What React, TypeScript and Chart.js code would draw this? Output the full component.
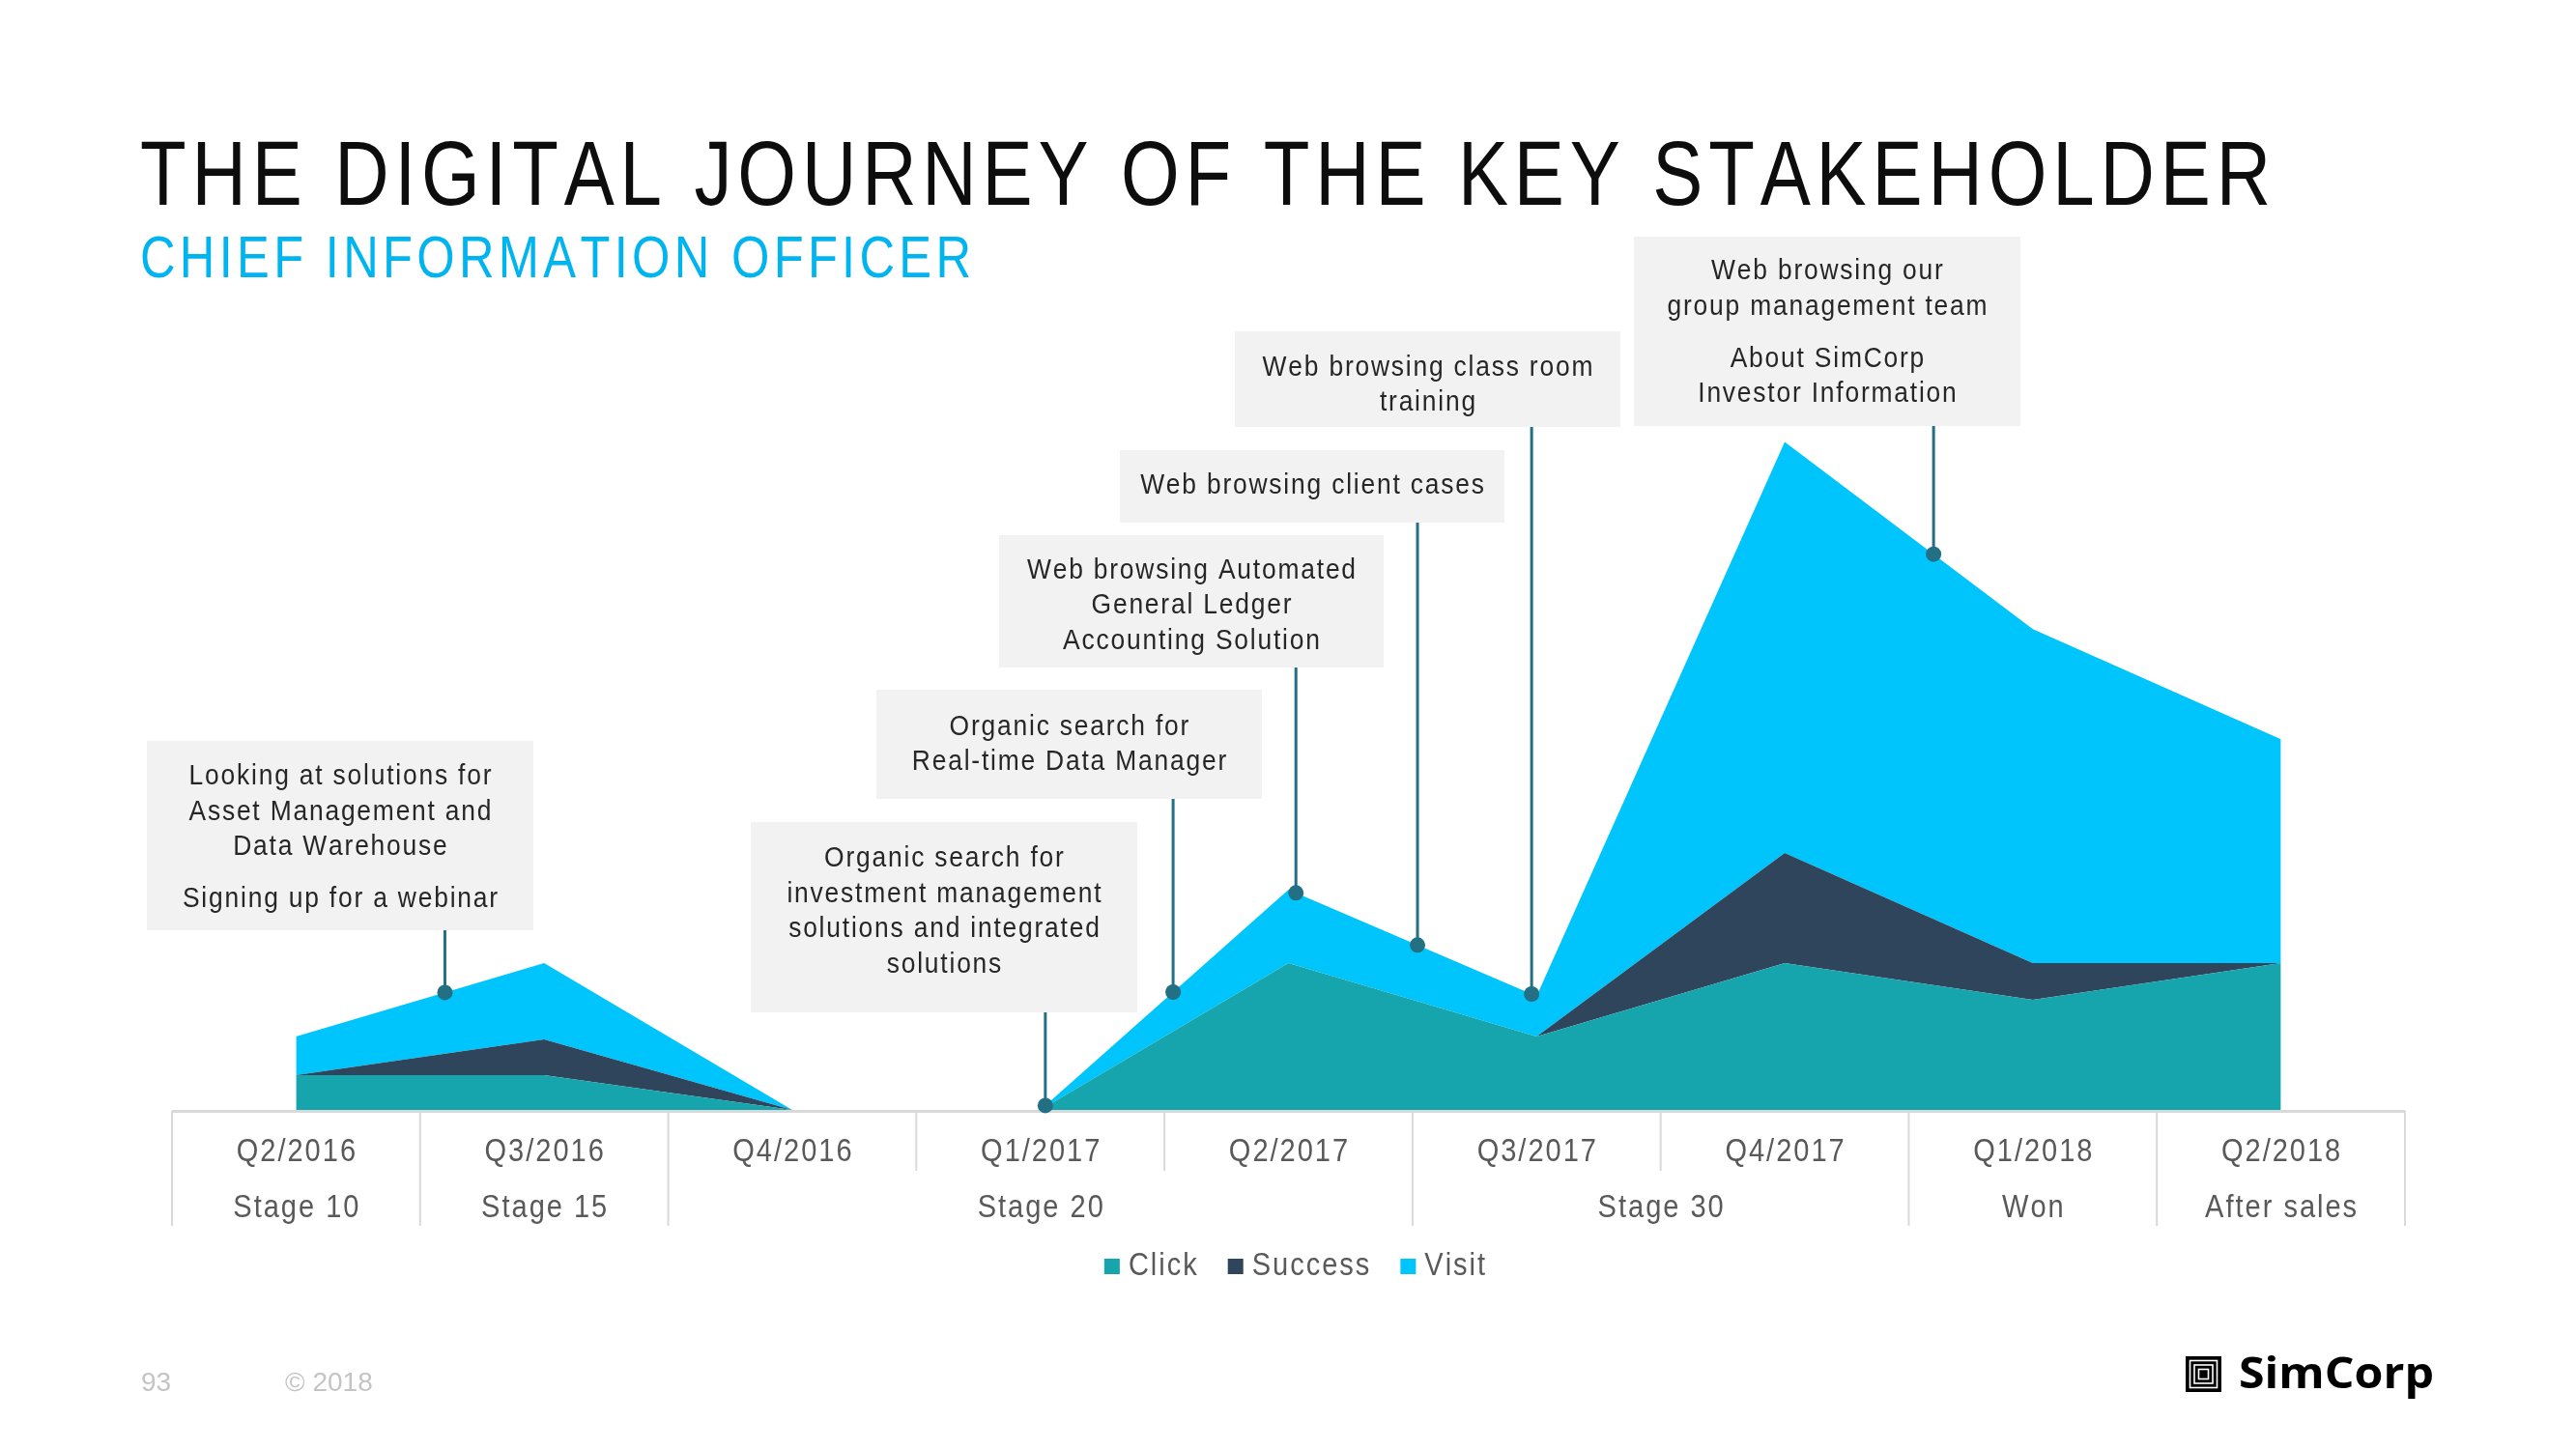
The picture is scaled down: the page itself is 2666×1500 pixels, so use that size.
import React, { useEffect, useRef } from 'react';
import { Chart, registerables } from 'chart.js';

Chart.register(...registerables);

// ---------- data ----------
const categories = ['Q2/2016', 'Q3/2016', 'Q4/2016', 'Q1/2017', 'Q2/2017', 'Q3/2017', 'Q4/2017', 'Q1/2018', 'Q2/2018'];
const clickValues = [0.95, 0.95, 0, 0, 4, 2, 4, 3, 4];
const successValues = [0, 0.97, 0, 0, 0, 0, 3, 1, 0];
const visitValues = [1.05, 2.08, 0, 0, 2, 1.1, 11.2, 9.1, 6.1];
const seriesNames = ['Click', 'Success', 'Visit'];

const stageLabels = ['Stage 10', 'Stage 15', 'Stage 20', 'Stage 30', 'Won', 'After sales'];
const stageFirst = [0, 1, 2, 5, 7, 8];
const stageLast = [0, 1, 4, 6, 7, 8];

const titleText = 'THE DIGITAL JOURNEY OF THE KEY STAKEHOLDER';
const subtitleText = 'CHIEF INFORMATION OFFICER';
const pageNumber = '93';
const copyrightText = '© 2018';
const brandText = 'SimCorp';

// annotation texts (paragraphs of lines) and the fractional category index they point at
const annotationTexts: string[][][] = [
  [['Looking at solutions for', 'Asset Management and', 'Data Warehouse'], ['Signing up for a webinar']],
  [['Organic search for', 'investment management', 'solutions and integrated', 'solutions']],
  [['Organic search for', 'Real-time Data Manager']],
  [['Web browsing Automated', 'General Ledger', 'Accounting Solution']],
  [['Web browsing client cases']],
  [['Web browsing class room', 'training']],
  [['Web browsing our', 'group management team'], ['About SimCorp', 'Investor Information']],
];
const annotationAt = [0.6, 3.02, 3.535, 4.03, 4.52, 4.98, 6.6];

// ---------- layout / style ----------
const W = 2666;
const H = 1500;
const annotationBoxes = [
  { x: 152, y: 767, w: 400, h: 196, dy: 0 },
  { x: 777, y: 851, w: 400, h: 197, dy: -8 },
  { x: 907, y: 714, w: 399, h: 113, dy: -2 },
  { x: 1034, y: 554, w: 398, h: 137, dy: 2 },
  { x: 1159, y: 466, w: 398, h: 75, dy: -3 },
  { x: 1278, y: 343, w: 399, h: 99, dy: 4 },
  { x: 1691, y: 245, w: 400, h: 196, dy: -1 },
];
const COLORS = ['#16a5ac', '#2e455c', '#00c5fc'];
const FONT = '"Liberation Sans", Arial, Helvetica, sans-serif';

function drawText(
  ctx: CanvasRenderingContext2D,
  text: string,
  x: number,
  y: number,
  opts: { size: number; color: string; align?: string; sx?: number; spacing?: number; target?: number; weight?: string; family?: string; baseline?: CanvasTextBaseline }
) {
  const sx = opts.sx ?? 0.88;
  ctx.save();
  ctx.font = `${opts.weight || 'normal'} ${opts.size}px ${opts.family || FONT}`;
  ctx.fillStyle = opts.color;
  ctx.textBaseline = opts.baseline || 'alphabetic';
  ctx.textAlign = 'left';
  const chars = Array.from(text);
  const widths = chars.map((c) => ctx.measureText(c).width * sx);
  const raw = widths.reduce((a, b) => a + b, 0);
  let spacing = opts.spacing ?? opts.size * 0.06;
  if (opts.target && chars.length > 1) spacing = (opts.target - raw) / (chars.length - 1);
  const total = raw + spacing * (chars.length - 1);
  let cx = opts.align === 'center' ? x - total / 2 : opts.align === 'right' ? x - total : x;
  for (let i = 0; i < chars.length; i++) {
    ctx.save();
    ctx.translate(cx, y);
    ctx.scale(sx, 1);
    ctx.fillText(chars[i], 0, 0);
    ctx.restore();
    cx += widths[i] + spacing;
  }
  ctx.restore();
  return total;
}

const decorPlugin = {
  id: 'decor',
  beforeDraw(chart: any) {
    const ctx: CanvasRenderingContext2D = chart.ctx;
    ctx.save();
    ctx.fillStyle = '#ffffff';
    ctx.fillRect(0, 0, chart.width, chart.height);
    ctx.restore();
    // titles
    drawText(ctx, titleText, 145, 212, { size: 94, color: '#0d0d0d', sx: 0.83, target: 2205 });
    drawText(ctx, subtitleText, 145, 287, { size: 61, color: '#00b4ef', sx: 0.83, target: 860 });
    // footer
    drawText(ctx, pageNumber, 146, 1440, { size: 28, color: '#c4c4c4', sx: 1, spacing: 0 });
    drawText(ctx, copyrightText, 295, 1440, { size: 28, color: '#c4c4c4', sx: 1, spacing: 0 });
    // logo icon
    ctx.save();
    ctx.fillStyle = '#000';
    ctx.fillRect(2262, 1404, 37, 37);
    ctx.strokeStyle = '#fff';
    ctx.lineWidth = 1.6;
    ctx.strokeRect(2266.5, 1408.5, 28, 28);
    ctx.strokeRect(2271, 1413, 19, 19);
    ctx.strokeRect(2275.5, 1417.5, 10, 10);
    ctx.restore();
    // logo text scaled to width
    const logoFamily = '"Open Sans", "Noto Sans", sans-serif';
    ctx.save();
    ctx.font = `700 44px ${logoFamily}`;
    const nat = ctx.measureText(brandText).width;
    ctx.restore();
    drawText(ctx, brandText, 2317, 1437, { size: 44, color: '#000', weight: '700', family: logoFamily, sx: 202 / nat, spacing: 0 });
  },
  afterDatasetsDraw(chart: any) {
    const ctx: CanvasRenderingContext2D = chart.ctx;
    const xs = chart.scales.x;
    const ys = chart.scales.y;
    const area = chart.chartArea;
    const n = categories.length;
    const cell = (area.right - area.left) / n;
    const edge = (i: number) => xs.getPixelForValue(i) - cell / 2;
    const baseY = ys.getPixelForValue(0);

    // ---- category table ----
    const groupEdges = new Set<number>();
    stageFirst.forEach((f) => groupEdges.add(f));
    groupEdges.add(n);
    ctx.save();
    ctx.strokeStyle = '#d9d9d9';
    ctx.lineWidth = 2;
    for (let i = 0; i <= n; i++) {
      const x = i === n ? edge(n - 1) + cell : edge(i);
      const bottom = groupEdges.has(i) ? baseY + 120 : baseY + 63;
      ctx.beginPath();
      ctx.moveTo(x, baseY + 1);
      ctx.lineTo(x, bottom);
      ctx.stroke();
    }
    ctx.lineWidth = 3;
    ctx.beginPath();
    ctx.moveTo(area.left, baseY + 1.5);
    ctx.lineTo(area.right, baseY + 1.5);
    ctx.stroke();
    ctx.restore();

    categories.forEach((c, i) => {
      drawText(ctx, c, xs.getPixelForValue(i), baseY + 52.5, { size: 33, color: '#595959', align: 'center' });
    });
    stageLabels.forEach((s, k) => {
      const cx = (xs.getPixelForValue(stageFirst[k]) + xs.getPixelForValue(stageLast[k])) / 2;
      drawText(ctx, s, cx, baseY + 111, { size: 33, color: '#595959', align: 'center' });
    });

    // ---- legend ----
    const measure = (t: string) => {
      ctx.save();
      ctx.font = `normal 33px ${FONT}`;
      const chars = Array.from(t);
      const w = chars.reduce((a, c) => a + ctx.measureText(c).width * 0.88, 0) + 33 * 0.06 * (chars.length - 1);
      ctx.restore();
      return w;
    };
    const items = chart.data.datasets.map((d: any) => ({ label: d.label, color: d.backgroundColor, w: measure(d.label) }));
    const sq = 16;
    const gapIn = 9;
    const gapOut = 32;
    const totalW = items.reduce((a: number, it: any) => a + sq + gapIn + it.w, 0) + gapOut * (items.length - 1);
    let lx = 1340 - totalW / 2;
    const ly = baseY + 171;
    items.forEach((it: any) => {
      ctx.save();
      ctx.fillStyle = it.color;
      ctx.fillRect(lx, ly - 17, sq, sq);
      ctx.restore();
      drawText(ctx, it.label, lx + sq + gapIn, ly, { size: 33, color: '#595959' });
      lx += sq + gapIn + it.w + gapOut;
    });

    // ---- annotations ----
    const totals = categories.map((_, i) => clickValues[i] + successValues[i] + visitValues[i]);
    annotationTexts.forEach((paras, k) => {
      const b = annotationBoxes[k];
      const f = annotationAt[k];
      const i0 = Math.floor(f);
      const i1 = Math.min(i0 + 1, n - 1);
      const t = f - i0;
      const v = totals[i0] * (1 - t) + totals[i1] * t;
      const px = xs.getPixelForValue(f);
      const py = ys.getPixelForValue(v);

      ctx.save();
      ctx.fillStyle = '#f2f2f2';
      ctx.fillRect(b.x, b.y, b.w, b.h);
      ctx.strokeStyle = '#236f84';
      ctx.lineWidth = 3;
      ctx.beginPath();
      ctx.moveTo(px, b.y + b.h);
      ctx.lineTo(px, py);
      ctx.stroke();
      ctx.fillStyle = '#236f84';
      ctx.beginPath();
      ctx.arc(px, py, 8, 0, Math.PI * 2);
      ctx.fill();
      ctx.restore();

      const lh = 36.5;
      const pg = 17.5;
      let lines = 0;
      paras.forEach((p) => (lines += p.length));
      const blockH = (lines - 1) * lh + (paras.length - 1) * pg;
      let yy = b.y + b.h / 2 - blockH / 2 + b.dy;
      paras.forEach((p, pi) => {
        p.forEach((line) => {
          drawText(ctx, line, b.x + b.w / 2, yy + 10.5, { size: 30, color: '#262626', align: 'center' });
          yy += lh;
        });
        if (pi < paras.length - 1) yy += pg;
      });
    });
  },
};

export default function App() {
  const ref = useRef<HTMLCanvasElement | null>(null);
  useEffect(() => {
    if (!ref.current) return;
    const series = [clickValues, successValues, visitValues];
    const chart = new Chart(ref.current, {
      type: 'line',
      data: {
        labels: categories,
        datasets: series.map((vals, i) => ({
          label: seriesNames[i],
          data: vals,
          backgroundColor: COLORS[i],
          borderColor: 'rgba(0,0,0,0)',
          borderWidth: 0,
          pointRadius: 0,
          pointHoverRadius: 0,
          fill: i === 0 ? 'origin' : '-1',
          tension: 0,
        })),
      },
      options: {
        animation: false,
        responsive: false,
        devicePixelRatio: 1,
        layout: { padding: { left: 178, right: 177, top: 389, bottom: 351 } },
        plugins: { legend: { display: false }, tooltip: { enabled: false }, title: { display: false } },
        scales: {
          x: { display: false, offset: true },
          y: { display: false, stacked: true, min: 0, max: 20 },
        },
      },
      plugins: [decorPlugin],
    } as any);
    return () => chart.destroy();
  }, []);
  return (
    <div style={{ position: 'absolute', left: 0, top: 0, width: W, height: H, background: '#fff' }}>
      <canvas ref={ref} width={W} height={H} style={{ display: 'block', width: W, height: H }} />
    </div>
  );
}
